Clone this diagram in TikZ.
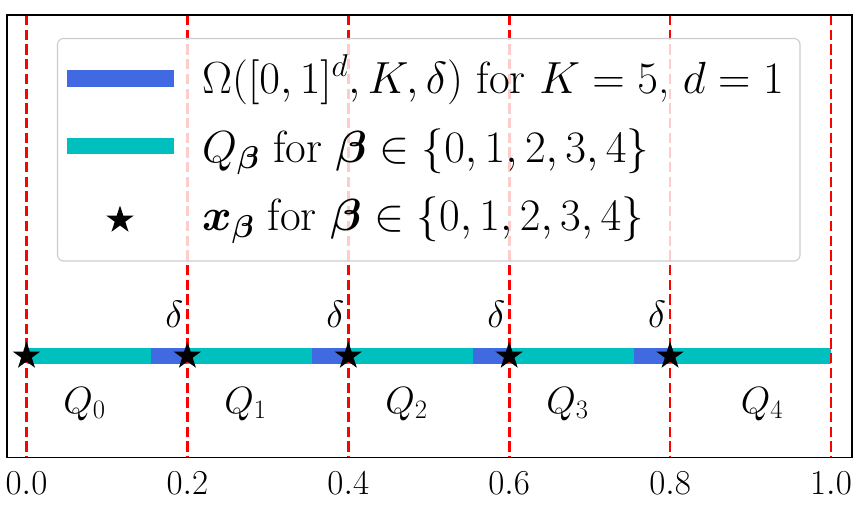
\RequirePackage{fix-cm}
\documentclass[tikz,border=0pt]{standalone}
\usepackage{amsmath}
\usetikzlibrary{shapes.geometric}
\definecolor{rblue}{RGB}{65,105,225}
\definecolor{qcyan}{RGB}{0,191,191}
\definecolor{legedge}{RGB}{204,204,204}
\tikzset{
  leg/.style={font=\fontsize{45}{52}\selectfont, anchor=base west, inner sep=0pt},
  ticklab/.style={font=\fontsize{35}{42}\selectfont, anchor=base, inner sep=0pt},
  qlab/.style={font=\fontsize{38}{44}\selectfont, anchor=base, inner sep=0pt},
  sepline/.style={red, line width=2.7pt, dash pattern=on 10.3pt off 4.4pt},
  starmark/.style={star, star points=5, star point ratio=2.618, fill=black, draw=none, inner sep=0pt, minimum size=29pt},
  bandb/.style={rblue, line width=16.6pt},
  bandc/.style={qcyan, line width=16.6pt},
}
\begin{document}
\begin{tikzpicture}[x=1pt,y=-1pt]
\useasboundingbox (0,0) rectangle (860,506);
% band
\coordinate (b0) at (26.5,356);
\coordinate (b1) at (831,356);
\draw[bandb] (b0) -- (b1);
\foreach \i/\a/\b in {0/26.5/150.9, 1/187.4/311.8, 2/348.3/472.7, 3/509.2/633.6, 4/670.1/831}{
  \coordinate (c\i a) at (\a,356);
  \coordinate (c\i b) at (\b,356);
  \draw[bandc] (c\i a) -- (c\i b);
}
% red dashed lines
\foreach \i/\x in {0/26.5, 1/187.4, 2/348.3, 3/509.2, 4/670.1, 5/831}{
  \coordinate (t\i) at (\x,15);
  \coordinate (u\i) at (\x,457.7);
  \draw[sepline] (t\i) -- (u\i);
}
% stars
\foreach \i/\x in {0/26.5, 1/187.4, 2/348.3, 3/509.2, 4/670.1}{
  \node[starmark] (s\i) at (\x,356) {};
}
% delta labels
\foreach \i/\x in {1/174.4, 2/335.3, 3/496.2, 4/657.1}{
  \node[qlab] (d\i) at (\x,327.5) {$\delta$};
}
% Q labels
\node[qlab] (q0) at (84.5,413) {$Q_0$};
\node[qlab] (q1) at (245.5,413) {$Q_1$};
\node[qlab] (q2) at (406.5,413) {$Q_2$};
\node[qlab] (q3) at (567.5,413) {$Q_3$};
\node[qlab] (q4) at (762,413) {$Q_4$};
% frame
\draw[line width=1.1pt] (7,15) rectangle (852,457.7);
% tick labels
\foreach \i/\x/\l in {0/26.5/0.0, 1/187.4/0.2, 2/348.3/0.4, 3/509.2/0.6, 4/670.1/0.8, 5/831/1.0}{
  \node[ticklab] (x\i) at (\x,494) {$\l$};
}
% legend
\draw[rounded corners=6pt, draw=legedge, fill=white, fill opacity=0.8, line width=1.1pt] (57.5,38.5) rectangle (800,261);
\coordinate (la1) at (66.7,78.3);
\coordinate (lb1) at (174,78.3);
\draw[bandb, line width=16.7pt] (la1) -- (lb1);
\coordinate (la2) at (66.7,146);
\coordinate (lb2) at (174,146);
\draw[bandc, line width=16.7pt] (la2) -- (lb2);
\node[starmark] (ls) at (120,220) {};
\node[leg] (l1) at (202,93) {$\Omega([0,1]^d, K, \delta)$ for $K=5$, $d=1$};
\node[leg] (l2) at (202,162) {$Q_{\boldsymbol{\beta}}$ for $\boldsymbol{\beta}\in\{0,1,2,3,4\}$};
\node[leg] (l3) at (202,230.5) {$\boldsymbol{x}_{\boldsymbol{\beta}}$ for $\boldsymbol{\beta}\in\{0,1,2,3,4\}$};
\end{tikzpicture}
\end{document}
